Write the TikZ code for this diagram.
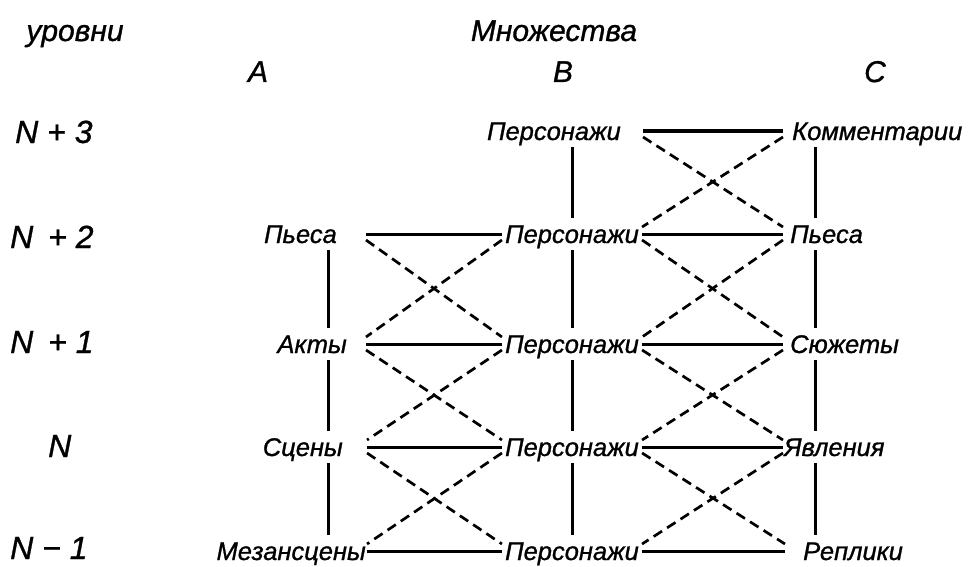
\documentclass[tikz,border=0pt]{standalone}
\usepackage{fontspec}
\setmainfont{Liberation Sans}[FakeBold=1.0]
\begin{document}
\begin{tikzpicture}[x=1pt,y=-1pt,
  term/.style={font=\itshape\fontsize{25.5}{25.5}\selectfont, inner ysep=0pt, text height=18pt, text depth=0pt},
  hdr/.style={font=\itshape\fontsize{30}{30}\selectfont, anchor=base, inner sep=0pt},
  lvl/.style={font=\itshape\fontsize{32}{32}\selectfont, anchor=base west, inner sep=0pt},
  solidln/.style={line width=3pt},
  dashln/.style={line width=2.7pt, dash pattern=on 10pt off 6pt},
  vln/.style={line width=3pt, shorten <=7pt, shorten >=7pt}]
\useasboundingbox (0,0) rectangle (979,567);
% headers
\node[hdr] (hlev) at (75,41) {уровни};
\node[hdr] (hset) at (554,41) {Множества};
\node[hdr] (hA) at (258,82) {A};
\node[hdr] (hB) at (563,82) {B};
\node[hdr] (hC) at (875,82) {C};
% level labels
\node[lvl] (l3) at (15,143) {N + 3};
\node[lvl] (l2) at (10,248) {N\hspace{6pt} + 2};
\node[lvl] (l1) at (10,353) {N\hspace{6pt} + 1};
\node[lvl] (l0) at (48,457) {N};
\node[lvl] (lm) at (10,559) {N − 1};
% column A
\coordinate (ax) at (328,0);
\node[term, anchor=east, inner xsep=29pt] (a2) at (366,234) {Пьеса};
\node[term, anchor=east, inner xsep=19pt] (a1) at (366,344) {Акты};
\node[term, anchor=east, inner xsep=24pt] (a0) at (367,447) {Сцены};
\node[term, anchor=east, inner xsep=1pt] (am) at (367,551) {Мезансцены};
% column B
\node[term, anchor=east, inner xsep=22pt] (b3) at (643,131) {Персонажи};
\node[term, inner xsep=3pt] (b2) at (572,234) {Персонажи};
\node[term, inner xsep=3pt] (b1) at (572,344) {Персонажи};
\node[term, inner xsep=3pt] (b0) at (572,447) {Персонажи};
\node[term, inner xsep=3pt] (bm) at (572,551) {Персонажи};
% column C
\coordinate (cx) at (815,0);
\node[term, anchor=west, inner xsep=9pt] (c3) at (783,131) {Комментарии};
\node[term, anchor=west, inner xsep=7pt] (c2) at (783,234) {Пьеса};
\node[term, anchor=west, inner xsep=7pt] (c1) at (783,344) {Сюжеты};
\node[term, anchor=west, inner xsep=1pt] (c0) at (783,447) {Явления};
\node[term, anchor=west, inner xsep=18pt] (cm) at (785,551) {Реплики};
% vertical lines
\draw[vln] (a2.south -| ax) -- (a1.north -| ax);
\draw[vln] (a1.south -| ax) -- (a0.north -| ax);
\draw[vln] (a0.south -| ax) -- (am.north -| ax);
\draw[vln] (b3.south -| b2.center) -- (b2.north);
\draw[vln] (b2.south) -- (b1.north);
\draw[vln] (b1.south) -- (b0.north);
\draw[vln] (b0.south) -- (bm.north);
\draw[vln] (c3.south -| cx) -- (c2.north -| cx);
\draw[vln] (c2.south -| cx) -- (c1.north -| cx);
\draw[vln] (c1.south -| cx) -- (c0.north -| cx);
\draw[vln] (c0.south -| cx) -- (cm.north -| cx);
% horizontal lines
\foreach \pa/\pb in {a2/b2, a1/b1, a0/b0, am/bm, b3/c3, b2/c2, b1/c1, b0/c0, bm/cm}
  \draw[solidln] (\pa.east) -- (\pb.west);
% dashed crosses
\foreach \pa/\pb/\pc/\pd in {a2/a1/b2/b1, a1/a0/b1/b0, a0/am/b0/bm, b3/b2/c3/c2, b2/b1/c2/c1, b1/b0/c1/c0, b0/bm/c0/cm}{
  \draw[dashln] ([yshift=-6pt]\pa.east) -- ([yshift=7pt]\pd.west);
  \draw[dashln] ([yshift=-6pt]\pc.west) -- ([yshift=7pt]\pb.east);
}
\end{tikzpicture}
\end{document}
